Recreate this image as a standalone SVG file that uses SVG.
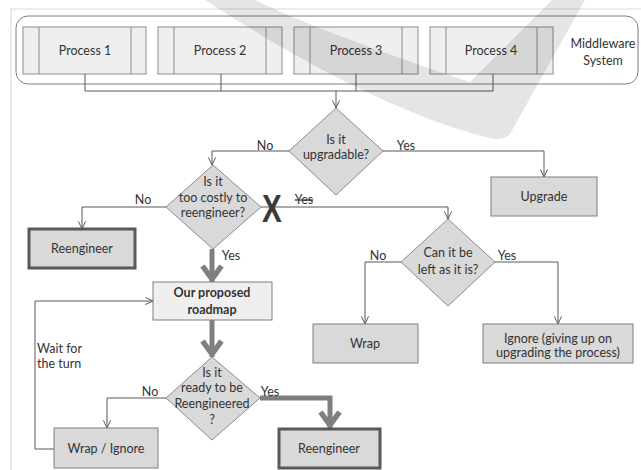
<svg xmlns="http://www.w3.org/2000/svg" width="641" height="470" viewBox="0 0 641 470">
<defs>
<style>
text{font-family:Lato,"Liberation Sans",sans-serif;font-size:12.5px;fill:#333333;text-anchor:middle}
.box{fill:#d9d9d9;stroke:#7f7f7f;stroke-width:1}
.thick{fill:#d9d9d9;stroke:#595959;stroke-width:3}
.proc{fill:#efefef;stroke:#8c8c8c;stroke-width:1}
.pin{stroke:#8c8c8c;stroke-width:1}
.dia{fill:#d9d9d9;stroke:#8c8c8c;stroke-width:1}
.con{fill:none;stroke:#595959;stroke-width:1}
.big{fill:none;stroke:#7f7f7f;stroke-width:5}
</style>
<marker id="thin" viewBox="0 0 10 10" refX="9.5" refY="5" markerWidth="9" markerHeight="9" markerUnits="userSpaceOnUse" orient="auto">
<path d="M1,1 L9.5,5 L1,9" fill="none" stroke="#595959" stroke-width="1.1"/>
</marker>
<marker id="fat" viewBox="0 0 20 24" refX="19" refY="12" markerWidth="20" markerHeight="24" markerUnits="userSpaceOnUse" orient="auto">
<path d="M3,2.5 L16,12 L3,21.5" fill="none" stroke="#7f7f7f" stroke-width="5.5"/>
</marker>
</defs>
<rect width="641" height="470" fill="#ffffff"/>
<path d="M11,470 V9 H641" fill="none" stroke="#dcdcdc" stroke-width="1.2"/>

<g id="middleware">
<rect x="16" y="16" width="622" height="68" rx="12" fill="#ffffff" stroke="#7f7f7f"/>
<text x="603" y="48">Middleware</text>
<text x="603" y="65">System</text>
</g>
<g id="process1">
<rect class="proc" x="23" y="27" width="123" height="47"/>
<line class="pin" x1="39" y1="27" x2="39" y2="74"/><line class="pin" x1="131" y1="27" x2="131" y2="74"/>
<text x="85" y="55">Process 1</text>
</g>
<g id="process2">
<rect class="proc" x="158" y="27" width="124" height="47"/>
<line class="pin" x1="174" y1="27" x2="174" y2="74"/><line class="pin" x1="266" y1="27" x2="266" y2="74"/>
<text x="220" y="55">Process 2</text>
</g>
<g id="process3">
<rect class="proc" x="294" y="27" width="124" height="47"/>
<line class="pin" x1="310" y1="27" x2="310" y2="74"/><line class="pin" x1="402" y1="27" x2="402" y2="74"/>
<text x="356" y="55">Process 3</text>
</g>
<g id="process4">
<rect class="proc" x="430" y="27" width="123" height="47"/>
<line class="pin" x1="446" y1="27" x2="446" y2="74"/><line class="pin" x1="537" y1="27" x2="537" y2="74"/>
<text x="491" y="55">Process 4</text>
</g>

<g id="connectors">
<path class="con" d="M85,74 V91 H493 V74 M221,74 V91 M356,74 V91"/>
<path class="con" d="M336,91 V108" marker-end="url(#thin)"/>
<path class="con" d="M289,151 H212 V165" marker-end="url(#thin)"/>
<path class="con" d="M383,151 H544 V177" marker-end="url(#thin)"/>
<path class="con" d="M166,207 H82 V229" marker-end="url(#thin)"/>
<path class="con" d="M261,207 H448 V219" marker-end="url(#thin)"/>
<path class="con" d="M401,262 H365 V324" marker-end="url(#thin)"/>
<path class="con" d="M495,262 H558 V324" marker-end="url(#thin)"/>
<path class="con" d="M166,398 H107 V428" marker-end="url(#thin)"/>
<path class="con" d="M54,449 H35 V301 H153" marker-end="url(#thin)"/>
<path class="big" d="M212,249 V282" marker-end="url(#fat)"/>
<path class="big" d="M212,320 V357" marker-end="url(#fat)"/>
<path class="big" d="M260,398 H330 V428" marker-end="url(#fat)"/>
<text x="265" y="150">No</text>
<text x="406" y="150">Yes</text>
<text x="143" y="204">No</text>
<text x="304" y="204" style="text-decoration:line-through">Yes</text>
<text x="231" y="260">Yes</text>
<text x="378" y="260">No</text>
<text x="507" y="260">Yes</text>
<text x="150" y="396">No</text>
<text x="270" y="396">Yes</text>
<text x="37" y="353" style="text-anchor:start">Wait for</text>
<text x="37" y="368" style="text-anchor:start">the turn</text>
</g>

<g id="upgradable">
<polygon class="dia" points="336,108 383,151 336,195 289,151"/>
<text x="336" y="144">Is it</text>
<text x="336" y="159">upgradable?</text>
</g>
<g id="upgrade">
<rect class="box" x="491" y="177" width="106" height="39"/>
<text x="544" y="201">Upgrade</text>
</g>
<g id="costly">
<polygon class="dia" points="213,165 261,207 213,249 166,207"/>
<text x="213" y="186">Is it</text>
<text x="213" y="202">too costly to</text>
<text x="213" y="217">reengineer?</text>
</g>
<g id="cross">
<text transform="translate(272,222) scale(0.78,1)" style="font-family:'Liberation Sans',Arial,sans-serif;font-weight:bold;font-size:38px;fill:#3a3a3a">X</text>
</g>
<g id="reengineer1">
<rect class="thick" x="29" y="229" width="106" height="39"/>
<text x="82" y="253">Reengineer</text>
</g>
<g id="leftasis">
<polygon class="dia" points="448,219 495,262 448,306 401,262"/>
<text x="448" y="257">Can it be</text>
<text x="448" y="274">left as it is?</text>
</g>
<g id="wrap">
<rect class="box" x="313" y="324" width="105" height="39"/>
<text x="365" y="348">Wrap</text>
</g>
<g id="ignore">
<rect class="box" x="483" y="324" width="150" height="39"/>
<text x="558" y="343">Ignore (giving up on</text>
<text x="558" y="357">upgrading the process)</text>
</g>
<g id="roadmap">
<rect x="153" y="282" width="119" height="38" fill="#efefef" stroke="#7f7f7f"/>
<text x="212" y="297" style="font-weight:bold">Our proposed</text>
<text x="212" y="314" style="font-weight:bold">roadmap</text>
</g>
<g id="ready">
<polygon class="dia" points="212,357 260,398 212,440 166,398"/>
<text x="212" y="377">Is it</text>
<text x="212" y="392">ready to be</text>
<text x="212" y="408">Reengineered</text>
<text x="212" y="424">?</text>
</g>
<g id="wrapignore">
<rect class="box" x="54" y="428" width="104" height="40"/>
<text x="106" y="453">Wrap / Ignore</text>
</g>
<g id="reengineer2">
<rect class="thick" x="279" y="429" width="101" height="39"/>
<text x="329" y="453">Reengineer</text>
</g>

<path d="M205,0 L255,0 C300,22 380,52 470,82 L552,0 L585,0 L510,134 C505,140 495,140 485,137 C400,115 300,62 205,0 Z" fill="#000000" fill-opacity="0.1"/>
</svg>
